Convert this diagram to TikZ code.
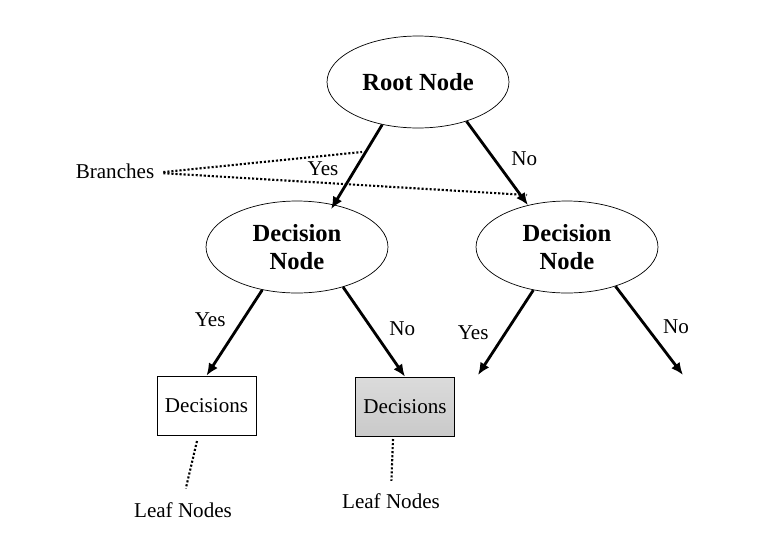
\documentclass[tikz,border=0pt]{standalone}
\usepackage{fontspec}
\setmainfont{Liberation Serif}
\usetikzlibrary{shapes.geometric,arrows.meta}

\begin{document}
\begin{tikzpicture}[x=0.02cm,y=-0.02cm,
        treenode/.style={draw, ellipse, thin, minimum width=3.64cm, minimum height=1.84cm,
            align=center, font=\fontsize{14}{16}\selectfont\bfseries},
        leafbox/.style={draw, thin, minimum width=1.98cm, minimum height=1.18cm,
            font=\fontsize{12}{14}\selectfont},
        branch/.style={line width=1.6pt, -{Latex[length=7pt,width=6pt]}},
        pointer/.style={line width=1.2pt, dash pattern=on 1.2pt off 1.1pt},
        lbl/.style={font=\fontsize{12}{14}\selectfont, inner sep=1pt}]
        \useasboundingbox (0,0) rectangle (759,545);
        % tree nodes
        \node[treenode] (root) at (418,82) {Root Node};
        \node[treenode] (decl) at (297,247) {Decision\\Node};
        \node[treenode] (decr) at (567,247) {Decision\\Node};
        \node[leafbox] (leafl) at (206.5,405.5) {Decisions};
        \node[leafbox, top color=gray!28, bottom color=gray!42] (leafr) at (405,406.5) {Decisions};
        \coordinate (endy) at (478,375);
        \coordinate (endn) at (683,375);
        % branches
        \draw[branch, shorten >=-3pt] (root.230) -- node[lbl, pos=0.55, left=8pt] {Yes} (decl.49);
        \draw[branch] (root.321) -- node[lbl, pos=0.45, right=8pt] {No} (decr.133);
        \draw[branch] (decl.231) -- node[lbl, pos=0.35, left=8pt] {Yes} (leafl.north);
        \draw[branch] (decl.319) -- node[lbl, pos=0.47, right=8pt] {No} (leafr.north);
        \draw[branch] (decr.232) -- node[lbl, pos=0.5, left=8pt] {Yes} (endy);
        \draw[branch] (decr.321) -- node[lbl, pos=0.45, right=8pt] {No} (endn);
        % labels with dotted pointers
        \node[lbl] (branches) at (115,171) {Branches};
        \coordinate (pyes) at (362,152);
        \coordinate (pno) at (527,195);
        \draw[pointer, shorten <=4pt] ([yshift=-1pt]branches.east) -- (pyes);
        \draw[pointer, shorten <=4pt] ([yshift=-1pt]branches.east) -- (pno);
        \node[lbl] (leafnl) at (183,510) {Leaf Nodes};
        \node[lbl] (leafnr) at (391,501) {Leaf Nodes};
        \coordinate (tipl) at (197,441);
        \coordinate (tipr) at (393,439);
        \draw[pointer, shorten >=7pt] (tipl) -- (leafnl.north);
        \draw[pointer, shorten >=6pt] (tipr) -- (leafnr.north);
\end{tikzpicture}
\end{document}
